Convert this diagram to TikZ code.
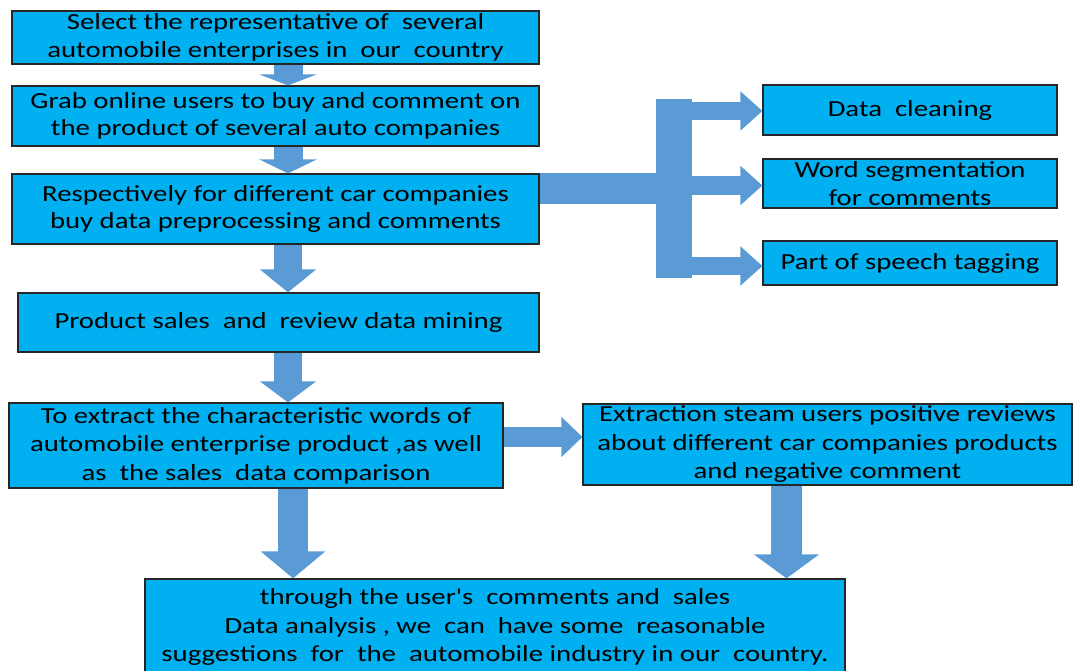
\documentclass[tikz,border=0pt]{standalone}
\usepackage{fontspec}
\setmainfont[FakeStretch=1.25,Ligatures=TeXOff]{Carlito}
\usetikzlibrary{arrows.meta}
\definecolor{boxcyan}{HTML}{00B0F0}
\definecolor{arrowblue}{HTML}{5B9BD5}

\tikzset{
    stagebox/.style={draw=black!85,line width=1.2pt,fill=boxcyan,inner sep=0,align=center,
        font=\fontsize{23}{27.5}\selectfont},
    lowbox/.style={stagebox,font=\fontsize{23}{28.5}\selectfont},
    blockarrow/.style n args={3}{draw=arrowblue,line width=#1,
        -{Triangle[width=#2,length=#3]}},
    feedbar/.style={draw=arrowblue,line width=30pt}
}

\begin{document}
\begin{tikzpicture}[x=1pt,y=-1pt]
    \useasboundingbox (0,0) rectangle (1075,671);

    % left column
    \node[stagebox,minimum width=527pt,minimum height=53pt] (s1) at (275.5,37.5) {Select the representative of\ \ several\\automobile enterprises in\ \ our\ \ country};
    \node[stagebox,minimum width=527pt,minimum height=60pt] (s2) at (275.5,116) {Grab online users to buy and comment on\\the product of several auto companies};
    \node[stagebox,minimum width=527pt,minimum height=70pt] (s3) at (275.5,209) {Respectively for different car companies\\buy data preprocessing and comments};
    \node[stagebox,minimum width=521pt,minimum height=59pt] (s4) at (278.5,322.5) {Product sales\ \ and\ \ review data mining};
    \node[lowbox,minimum width=494pt,minimum height=85pt] (s5) at (256,445.5) {To extract the characteristic words of\\automobile enterprise product ,as well\\as\ \ the sales\ \ data comparison};
    \node[lowbox,minimum width=489pt,minimum height=81pt] (s6) at (827.5,444.5) {Extraction steam users positive reviews\\about different car companies products\\and negative comment};
    \node[lowbox,minimum width=700pt,minimum height=96pt] (s7) at (495,627) {through the user's\ \ comments and\ \ sales\\Data analysis , we\ \ can\ \ have some\ \ reasonable\\suggestions\ \ for\ \ the\ \ automobile industry in our\ \ country.};

    % preprocessing steps
    \node[stagebox,minimum width=294pt,minimum height=50pt] (dc) at (910,110) {Data\ \ cleaning};
    \node[stagebox,minimum width=294pt,minimum height=49pt] (ws) at (910,183.5) {Word segmentation\\for comments};
    \node[stagebox,minimum width=294pt,minimum height=44pt] (pos) at (910,263) {Part of speech tagging};
    \node[fill=arrowblue,inner sep=0,minimum width=36pt,minimum height=179pt] (bar) at (674,188.5) {};

    \coordinate (colA) at (288,0);
    \coordinate (colB) at (293,0);
    \coordinate (colC) at (786.5,0);
    \coordinate (rowA) at (0,437);

    % arrows
    \draw[blockarrow={29pt}{57pt}{11pt}] (s1.south -| colA) -- (s2.north -| colA);
    \draw[blockarrow={29pt}{57pt}{14pt}] (s2.south -| colA) -- (s3.north -| colA);
    \draw[blockarrow={28pt}{55pt}{23pt}] (s3.south -| colA) -- (s4.north -| colA);
    \draw[blockarrow={28pt}{55pt}{21pt}] (s4.south -| colA) -- (s5.north -| colA);
    \draw[blockarrow={20pt}{39pt}{21pt}] (s5.east |- rowA) -- (s6.west |- rowA);
    \draw[blockarrow={30pt}{63pt}{27pt}] (s5.south -| colB) -- (s7.north -| colB);
    \draw[blockarrow={31pt}{64pt}{24pt}] (s6.south -| colC) -- (s7.north -| colC);

    \draw[feedbar] (s3.east |- bar.west) -- (bar.west);
    \draw[blockarrow={18pt}{38pt}{22pt}] ([yshift=-1pt]bar.east |- dc.west) -- ([yshift=-1pt]dc.west);
    \draw[blockarrow={18pt}{38pt}{22pt}] ([yshift=-2pt]bar.east |- ws.west) -- ([yshift=-2pt]ws.west);
    \draw[blockarrow={18pt}{38pt}{22pt}] ([yshift=-3pt]bar.east |- pos.west) -- ([yshift=-3pt]pos.west);
\end{tikzpicture}
\end{document}
